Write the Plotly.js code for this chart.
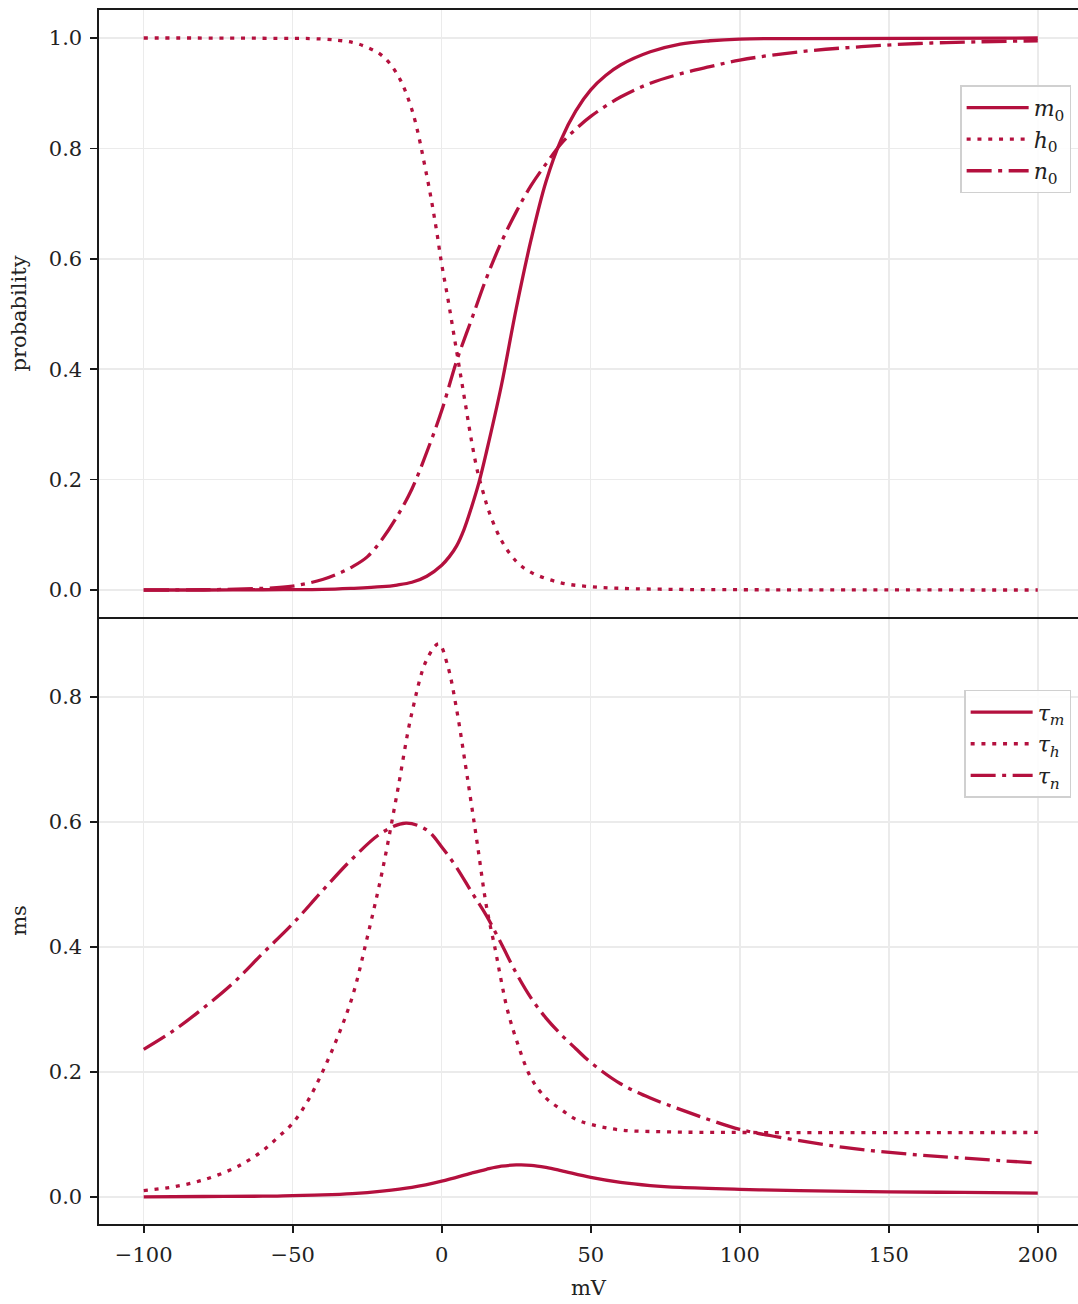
<!DOCTYPE html>
<html>
<head>
<meta charset="utf-8">
<script src="https://cdn.plot.ly/plotly-3.0.1.min.js"></script>
<style>html,body{margin:0;padding:0;background:#fff;}#chart{width:1078px;height:1304px;}</style>
</head>
<body>
<div id="chart"></div>
<script>
// ---- data (voltage in mV) ----
const v_m0 = [-100,-80,-60,-40,-30,-20,-15,-10,-5,0,2.5,5,7.5,10,12.5,15,20,25,30,35,40,45,50,55,60,70,80,90,100,120,200];
const m0   = [0,0,0.0005,0.001,0.003,0.006,0.009,0.014,0.025,0.045,0.06,0.08,0.11,0.15,0.195,0.25,0.37,0.51,0.635,0.74,0.815,0.868,0.906,0.932,0.951,0.975,0.989,0.995,0.998,0.999,1.0];

const v_h0 = [-100,-60,-40,-30,-25,-20,-15,-10,-5,-2,0,2,4,6,8,10,12,14,16,20,25,30,40,50,60,80,100,200];
const h0   = [1.0,0.9995,0.998,0.992,0.983,0.968,0.935,0.87,0.75,0.66,0.59,0.53,0.465,0.40,0.335,0.27,0.215,0.175,0.14,0.09,0.052,0.032,0.013,0.006,0.003,0.001,0.0005,0.0];

const v_n0 = [-100,-80,-60,-50,-40,-35,-30,-25,-20,-15,-10,-5,0,5,10,15,20,25,30,35,40,45,50,60,70,80,90,100,120,140,160,180,200];
const n0   = [0,0.0005,0.003,0.007,0.019,0.029,0.042,0.06,0.092,0.133,0.183,0.25,0.325,0.415,0.49,0.565,0.63,0.685,0.733,0.772,0.808,0.835,0.858,0.893,0.918,0.935,0.948,0.96,0.975,0.984,0.99,0.993,0.995];

const v_tm = [-100,-80,-60,-50,-40,-30,-20,-10,0,10,15,20,25,30,35,40,50,60,70,80,100,120,150,175,200];
const tau_m = [0.0,0.0005,0.001,0.002,0.003,0.005,0.009,0.015,0.025,0.038,0.044,0.049,0.051,0.0505,0.047,0.042,0.031,0.023,0.018,0.015,0.012,0.01,0.008,0.007,0.006];

const v_th = [-100,-90,-80,-70,-65,-60,-55,-50,-45,-40,-35,-30,-25,-20,-15,-10,-5,-1,2,5,8,10,12,15,18,20,22,25,30,35,40,45,50,60,75,100,200];
const tau_h = [0.01,0.016,0.027,0.045,0.058,0.074,0.095,0.118,0.153,0.2,0.255,0.32,0.415,0.52,0.645,0.775,0.86,0.885,0.85,0.78,0.69,0.627,0.563,0.465,0.395,0.345,0.3,0.252,0.19,0.158,0.14,0.124,0.116,0.107,0.104,0.103,0.103];

const v_tn = [-100,-90,-80,-70,-60,-50,-40,-30,-20,-12,-5,0,5,10,15,20,25,30,35,40,45,50,60,70,80,90,100,115,135,155,175,200];
const tau_n = [0.236,0.266,0.302,0.342,0.39,0.437,0.49,0.541,0.583,0.598,0.587,0.56,0.527,0.488,0.45,0.405,0.358,0.318,0.286,0.26,0.237,0.215,0.181,0.158,0.14,0.123,0.108,0.094,0.079,0.069,0.062,0.054];

const xTicks = [-100,-50,0,50,100,150,200];
const yTicksTop = [0,0.2,0.4,0.6,0.8,1.0];
const yTicksBot = [0,0.2,0.4,0.6,0.8];

// ---- styling ----
const C = 'rgb(180,16,62)';
const W = 3.3;
const DOT = '4px,6.8px';
const DASHDOT = '25px,6.5px,4px,6.5px';
const FONT = 'DejaVu Serif';
const TF = {family: FONT, size: 21, color: '#222'};

function tr(x, y, name, dash, xa, ya, leg) {
  return {x: x, y: y, name: name, type: 'scatter', mode: 'lines', xaxis: xa, yaxis: ya, legend: leg,
    line: {color: C, width: W, dash: dash, shape: 'spline', smoothing: 1.0}};
}

const data = [
  tr(v_m0, m0, '<i>m</i><sub>0</sub>', 'solid', 'x2', 'y2', 'legend'),
  tr(v_h0, h0, '<i>h</i><sub>0</sub>', DOT, 'x2', 'y2', 'legend'),
  tr(v_n0, n0, '<i>n</i><sub>0</sub>', DASHDOT, 'x2', 'y2', 'legend'),
  tr(v_tm, tau_m, '<i>τ</i><sub><i>m</i></sub>', 'solid', 'x', 'y', 'legend2'),
  tr(v_th, tau_h, '<i>τ</i><sub><i>h</i></sub>', DOT, 'x', 'y', 'legend2'),
  tr(v_tn, tau_n, '<i>τ</i><sub><i>n</i></sub>', DASHDOT, 'x', 'y', 'legend2')
];

const axBase = {showline: true, linecolor: '#1a1a1a', linewidth: 1.6,
  showgrid: true, gridcolor: '#ebebeb', gridwidth: 1.5, zeroline: false,
  tickfont: TF};

const legBase = {bgcolor: 'rgba(255,255,255,0.9)', bordercolor: '#d0d0d0', borderwidth: 1.5,
  font: {family: FONT, size: 22, color: '#222'}, xanchor: 'right', yanchor: 'top', itemwidth: 62, tracegroupgap: 0};

const layout = {
  width: 1078, height: 1304,
  margin: {l: 99, r: 0, t: 10, b: 80},
  paper_bgcolor: '#fff', plot_bgcolor: '#fff',
  showlegend: true,
  xaxis: Object.assign({}, axBase, {domain: [0, 1], anchor: 'y', range: [-115, 213.5], mirror: false,
    tickvals: xTicks, ticks: 'outside', ticklen: 7, tickwidth: 1.6, tickcolor: '#1a1a1a', ticklabelstandoff: 4,
    title: {text: 'mV', font: TF, standoff: 14}}),
  yaxis: Object.assign({}, axBase, {domain: [0, 0.5], anchor: 'x', range: [-0.0435, 0.928], mirror: true,
    tickvals: yTicksBot, ticktext: ['0.0','0.2','0.4','0.6','0.8'], ticks: 'outside', ticklen: 7, tickwidth: 1.6, tickcolor: '#1a1a1a', ticklabelstandoff: 4,
    title: {text: 'ms', font: TF, standoff: 16}}),
  xaxis2: Object.assign({}, axBase, {domain: [0, 1], anchor: 'y2', matches: 'x', range: [-115, 213.5], mirror: true,
    tickvals: xTicks, showticklabels: false, ticks: ''}),
  yaxis2: Object.assign({}, axBase, {domain: [0.5, 1], anchor: 'x2', range: [-0.0489, 1.0507], mirror: true,
    tickvals: yTicksTop, ticktext: ['0.0','0.2','0.4','0.6','0.8','1.0'], ticks: 'outside', ticklen: 7, tickwidth: 1.6, tickcolor: '#1a1a1a', ticklabelstandoff: 4,
    title: {text: 'probability', font: TF, standoff: 16}}),
  legend: Object.assign({}, legBase, {x: 0.993, y: 0.938}),
  legend2: Object.assign({}, legBase, {x: 0.993, y: 0.44})
};

Plotly.newPlot('chart', data, layout, {displayModeBar: false, staticPlot: true});
</script>
</body>
</html>
